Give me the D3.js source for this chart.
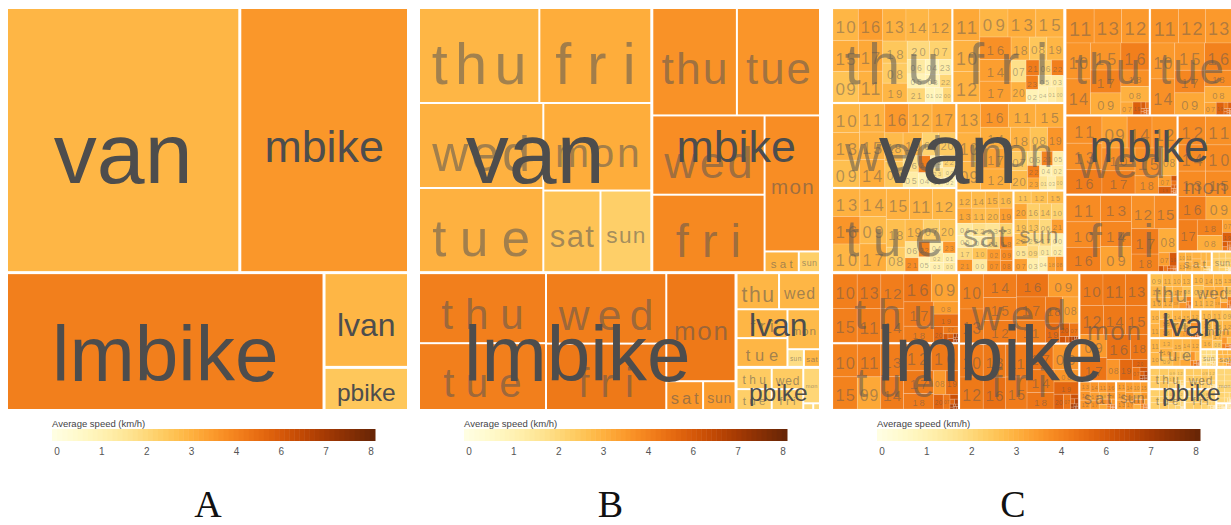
<!DOCTYPE html>
<html><head><meta charset="utf-8">
<script src="https://cdn.jsdelivr.net/npm/d3@7"></script>
<style>
body{margin:0;background:#fff}
svg{display:block}
text{font-family:"Liberation Sans",Arial,Helvetica,sans-serif}
text.letter{font-family:"Liberation Serif","DejaVu Serif",serif}
</style>
</head><body>
<svg id="chart" width="1231" height="525"></svg>
<script>
// ---------------- DATA ----------------
const vehicles = ["van", "mbike", "lmbike", "lvan", "pbike"];
const vehicleSpeed = [2.9, 3.55, 4.1, 2.9, 2.5];
const days = ["mon", "tue", "wed", "thu", "fri", "sat", "sun"];
const hours = ["00","01","02","03","04","05","06","07","08","09","10","11","12","13","14","15","16","17","18","19","20","21","22","23"];
const legendTicks = [0, 1, 2, 3, 4, 6, 7, 8];
const panelLetters = ["A", "B", "C"];

// day-level average speed (mon..sun)
const vanDaySpeed    = [3.1, 3.0, 3.0, 2.9, 3.1, 2.6, 2.3];
const mbikeDaySpeed  = [3.75, 3.6, 3.75, 3.65, 3.85, 2.95, 2.3];
const lmbikeDaySpeed = [4.4, 4.1, 4.15, 4.1, 4.4, 3.6, 3.45];
const lvanDaySpeed   = [2.8, 2.9, 2.9, 2.9, 2.9, 2.9, 1.9];
const pbikeDaySpeed  = [2.1, 2.3, 2.4, 2.4, 2.3, 2.0, 2.0];

// hourly counts, rows mon..sun, columns hour 00..23
const vanCounts = [
 [100,110,120,110,130,150,200,330,420,650,660,640,620,670,630,640,650,630,470,380,320,160,150,140],
 [100,110,130,120,150,160,220,360,450,720,730,700,700,740,730,710,740,720,520,400,350,180,170,140],
 [110,120,110,150,170,230,250,380,470,710,760,710,670,730,690,700,690,670,520,440,380,200,150,140],
 [120,130,125,190,200,255,260,400,490,770,800,750,720,745,730,780,760,755,540,460,410,250,150,195],
 [110,130,150,140,140,150,190,330,400,790,820,830,810,780,680,770,700,650,420,380,300,200,180,170],
 [170,165,150,175,175,185,190,150,130,140,175,215,240,225,235,232,230,185,165,200,210,180,180,178],
 [150,140,130,145,130,160,175,160,115,150,190,210,205,180,192,200,195,152,120,188,200,172,170,155]
];
const vanSpeeds = [
 [2.0,1.6,1.3,1.2,1.1,1.3,1.8,2.4,2.6,2.9,3.0,3.1,3.1,3.1,3.1,3.1,3.6,3.3,3.0,3.6,2.8,4.0,4.2,3.2],
 [1.5,1.2,1.4,1.1,1.2,1.0,1.6,2.3,2.4,2.8,2.9,3.0,2.9,3.0,3.0,3.0,3.6,3.1,2.7,2.8,2.6,3.8,4.0,3.6],
 [1.5,1.2,1.0,1.1,1.0,1.3,1.8,2.2,2.5,2.7,2.9,3.0,3.0,3.0,3.1,3.0,3.5,3.2,2.8,2.9,2.4,4.2,2.2,1.8],
 [2.1,0.9,1.0,1.0,0.9,1.0,1.4,2.2,2.4,2.6,2.9,3.0,3.0,3.0,2.9,3.1,3.4,3.2,2.5,2.9,2.0,2.1,2.1,1.3],
 [1.6,1.3,1.0,1.3,1.0,1.3,2.2,1.8,2.5,2.9,3.0,3.2,3.0,3.1,3.4,3.0,3.7,3.4,3.0,2.9,3.0,4.3,4.1,4.1],
 [1.4,2.0,3.5,2.2,1.2,1.3,1.4,3.7,3.9,3.8,2.6,2.8,2.9,3.2,2.8,2.9,2.8,2.0,3.8,3.4,2.8,3.6,1.8,1.6],
 [1.2,1.4,1.3,1.2,1.1,1.6,2.0,3.4,3.6,2.0,2.2,2.6,2.7,2.5,2.4,2.8,2.3,2.0,3.3,2.6,3.2,3.4,2.7,1.8]
];
const mbikeCounts = [
 [4,3,3,3,3,4,18,120,380,620,700,760,780,690,720,680,650,580,400,90,25,9,7,5],
 [5,4,3,3,3,5,25,140,430,650,860,940,920,910,850,820,750,680,450,95,25,10,8,6],
 [5,4,3,3,3,5,22,140,420,800,760,960,780,950,790,740,860,760,420,90,28,10,8,6],
 [5,4,3,3,3,5,20,150,440,660,870,950,930,940,860,830,760,700,460,100,30,10,8,6],
 [5,4,3,3,3,5,20,140,430,760,880,900,760,800,780,740,820,700,470,95,25,10,8,6],
 [2,2,1,1,1,2,4,10,25,45,75,70,68,72,66,64,60,50,35,15,6,3,2,2],
 [1,1,1,1,1,1,3,6,15,28,45,48,46,44,42,40,36,30,18,8,3,2,1,1]
];
const mbikeSpeeds = [
 [5.3,5.0,5.0,5.0,5.0,5.0,4.5,3.3,3.1,3.2,3.8,3.7,3.8,3.8,3.8,3.8,4.1,4.1,4.0,5.6,5.8,5.5,5.4,5.3],
 [5.4,5.2,5.0,5.0,5.0,5.0,4.4,3.3,3.1,3.2,3.5,3.6,3.6,3.5,3.7,3.6,4.0,3.9,3.8,5.5,5.6,5.4,5.3,5.4],
 [5.5,5.1,5.0,5.0,5.0,5.0,4.6,3.4,3.0,3.3,3.7,3.7,3.6,3.7,3.8,3.7,4.2,4.1,3.7,5.8,6.0,5.6,5.5,5.5],
 [5.5,5.0,5.0,5.0,5.0,5.0,4.5,3.2,3.0,3.1,3.6,3.6,3.5,3.6,3.7,3.6,4.1,4.0,3.7,5.6,5.8,5.5,5.5,5.5],
 [5.4,5.0,5.0,5.0,5.0,5.0,4.5,3.4,3.1,3.3,3.8,3.8,3.7,3.9,3.9,3.8,4.1,4.2,4.0,5.9,6.0,5.7,5.5,5.5],
 [2.4,2.2,2.0,2.0,2.0,2.2,2.4,2.6,2.8,2.9,3.0,3.0,3.0,3.1,3.0,3.0,3.0,2.9,2.8,2.7,2.6,2.5,2.4,2.4],
 [2.0,2.0,1.9,1.9,1.9,2.0,2.1,2.2,2.3,2.3,2.4,2.4,2.3,2.4,2.3,2.3,2.3,2.2,2.2,2.1,2.0,2.0,2.0,2.0]
];
const lmbikeCounts = [
 [5,4,4,4,4,5,18,100,270,620,720,710,680,700,650,640,600,610,430,260,120,30,15,8],
 [6,5,4,4,4,6,22,100,290,760,800,770,740,750,745,790,720,690,470,290,140,38,18,10],
 [6,5,4,4,4,5,22,120,420,690,820,650,740,790,780,770,730,680,450,280,130,35,18,10],
 [6,5,4,4,4,6,25,110,300,745,835,805,795,815,785,825,765,735,480,300,150,40,20,10],
 [6,5,4,4,4,5,20,110,300,640,760,700,750,740,620,690,720,660,450,300,140,35,18,10],
 [3,2,2,2,2,3,8,20,40,60,85,92,95,98,94,96,90,80,60,45,25,10,5,4],
 [3,2,2,2,2,2,6,15,35,55,82,86,85,84,83,82,80,70,50,38,20,8,5,3]
];
const lmbikeSpeeds = [
 [6.7,6.9,7.0,7.0,6.8,6.5,5.6,4.6,3.6,3.5,4.3,4.4,4.4,4.4,4.4,4.3,4.7,4.6,4.5,5.1,5.4,6.1,6.5,6.7],
 [6.8,7.0,7.0,6.9,6.8,6.4,5.4,4.5,3.5,3.2,4.0,4.1,4.2,4.2,4.3,4.0,4.4,4.4,4.3,4.9,5.3,6.2,6.6,6.8],
 [6.9,7.0,7.0,7.0,6.9,6.5,5.5,4.5,3.3,3.4,4.0,4.1,4.3,4.2,4.2,4.1,4.6,4.4,4.4,5.0,5.4,6.1,6.6,6.8],
 [6.8,7.0,7.0,7.0,6.8,6.5,5.5,4.4,3.4,3.3,4.1,4.2,4.2,4.3,4.2,4.1,4.5,4.3,4.2,4.8,5.2,6.0,6.5,6.8],
 [6.8,7.0,7.0,7.0,6.9,6.6,5.6,4.6,3.6,3.6,4.3,4.3,4.4,4.4,4.4,4.3,4.8,4.6,4.5,5.2,5.5,6.2,6.6,6.8],
 [4.5,4.8,5.0,5.0,4.8,4.5,4.0,3.5,3.2,3.2,3.4,3.5,3.6,3.6,3.6,3.6,3.7,3.6,3.6,3.8,4.0,4.3,4.5,4.6],
 [4.3,4.6,4.8,4.8,4.6,4.3,3.8,3.3,3.0,3.0,3.3,3.4,3.4,3.5,3.4,3.4,3.5,3.5,3.5,3.7,3.9,4.2,4.3,4.4]
];
const lvanCounts = [
 [2,1,1,1,1,2,9,36,77,115,120,118,106,113,111,108,111,99,68,38,18,7,3,2],
 [2,1,1,1,1,2,10,41,84,127,133,136,118,131,122,127,129,108,75,43,20,8,5,3],
 [2,1,1,1,1,2,11,43,88,133,136,133,118,124,130,127,124,111,77,43,20,9,5,3],
 [2,1,1,1,1,2,11,45,90,153,127,129,119,127,145,124,142,113,79,45,23,9,5,3],
 [2,1,1,1,1,2,10,41,86,130,133,131,120,127,124,122,127,113,79,45,20,9,5,3],
 [1,1,1,1,1,1,3,7,11,17,24,26,27,26,25,24,23,19,14,10,7,5,2,1],
 [1,1,1,1,1,1,3,7,11,18,25,27,27,26,25,24,23,20,15,10,7,5,2,2]
];
const lvanSpeeds = [
 [5.4,5.5,5.5,5.4,5.3,4.9,3.7,2.7,2.5,2.6,2.8,2.8,2.9,2.8,2.8,2.8,2.9,2.9,3.1,3.5,4.1,4.9,5.3,5.4],
 [5.5,5.6,5.5,5.5,5.4,5.0,3.8,2.8,2.6,2.7,2.9,2.9,3.0,2.9,2.9,2.9,3.0,3.0,3.2,3.6,4.2,5.0,5.4,5.5],
 [5.6,5.6,5.6,5.5,5.4,5.0,3.9,2.8,2.6,2.7,2.9,2.9,2.9,2.9,3.0,2.9,3.0,3.1,3.2,3.7,4.3,5.1,5.4,5.5],
 [5.5,5.6,5.6,5.5,5.4,5.0,3.8,2.8,2.6,2.7,2.9,2.9,3.0,2.9,2.9,2.9,3.0,3.0,3.2,3.6,4.2,5.0,5.4,5.5],
 [5.5,5.6,5.6,5.5,5.4,5.1,3.9,2.9,2.7,2.7,2.9,3.0,2.9,3.0,2.9,2.9,3.1,3.1,3.3,3.7,4.3,5.0,5.4,5.5],
 [4.8,5.0,5.0,4.8,4.6,4.2,3.5,3.0,2.8,2.8,2.9,2.9,2.9,2.9,2.9,2.9,2.9,2.9,3.0,3.2,3.6,4.2,4.6,4.8],
 [2.5,2.6,2.6,2.5,2.4,2.2,1.9,1.8,1.8,1.8,1.9,1.9,1.9,1.9,1.9,1.9,1.9,1.9,2.0,2.1,2.2,2.4,2.5,2.5]
];
const pbikeCounts = [
 [1,1,1,1,1,1,3,16,36,51,53,53,50,52,52,53,51,45,31,18,9,3,2,1],
 [1,1,1,1,1,1,5,20,45,62,66,66,62,64,64,66,63,57,38,23,11,5,2,1],
 [1,1,1,1,1,1,5,18,41,57,59,60,57,58,59,60,58,52,35,20,10,5,2,1],
 [1,1,1,1,1,1,5,20,45,63,66,68,62,64,66,68,64,59,40,23,11,5,2,1],
 [1,1,1,1,1,1,5,17,40,55,58,59,55,57,58,59,57,51,34,20,10,5,2,1],
 [1,0.6,0.6,0.6,0.6,0.6,1,2,3.5,4.5,5.5,5.5,5.5,5.5,5.5,5.5,4.5,4.5,3.5,2,1,1,0.6,0.6],
 [0.6,0.6,0.6,0.6,0.6,0.6,1,1,2.2,3.4,3.4,3.4,3.4,3.4,3.4,3.4,3.4,3.4,2.2,1,1,1,0.6,0.6]
];
const pbikeSpeeds = [
 [1.9,1.9,1.9,1.9,1.9,2.0,2.0,2.1,2.1,2.1,2.1,2.1,2.1,2.1,2.1,2.1,2.2,2.2,2.1,2.1,2.0,2.0,1.9,1.9],
 [2.0,2.0,2.0,2.0,2.0,2.1,2.2,2.2,2.2,2.3,2.3,2.3,2.3,2.3,2.3,2.3,2.4,2.4,2.3,2.2,2.1,2.1,2.0,2.0],
 [2.0,2.0,2.0,2.0,2.0,2.1,2.2,2.3,2.3,2.4,2.4,2.4,2.4,2.4,2.4,2.4,2.5,2.5,2.4,2.3,2.2,2.1,2.0,2.0],
 [2.0,2.0,2.0,2.0,2.0,2.1,2.2,2.3,2.3,2.4,2.4,2.4,2.4,2.4,2.4,2.4,2.5,2.5,2.4,2.3,2.2,2.1,2.0,2.0],
 [2.0,2.0,2.0,2.0,2.0,2.1,2.2,2.2,2.2,2.3,2.3,2.3,2.3,2.3,2.3,2.3,2.4,2.4,2.3,2.2,2.1,2.1,2.0,2.0],
 [1.8,1.8,1.8,1.8,1.8,1.9,1.9,2.0,2.0,2.0,2.0,2.0,2.0,2.0,2.0,2.0,2.1,2.1,2.0,2.0,1.9,1.9,1.8,1.8],
 [1.9,1.9,1.9,1.9,1.9,2.0,2.0,2.0,2.0,2.0,2.0,2.0,2.0,2.0,2.0,2.0,2.1,2.1,2.0,2.0,1.9,1.9,1.9,1.9]
];

// ---------------- BUILD ----------------
const daySpeedBy = {van: vanDaySpeed, mbike: mbikeDaySpeed, lmbike: lmbikeDaySpeed, lvan: lvanDaySpeed, pbike: pbikeDaySpeed};
const countsBy = {van: vanCounts, mbike: mbikeCounts, lmbike: lmbikeCounts, lvan: lvanCounts, pbike: pbikeCounts};
const speedsBy = {van: vanSpeeds, mbike: mbikeSpeeds, lmbike: lmbikeSpeeds, lvan: lvanSpeeds, pbike: pbikeSpeeds};

const rootData = {
  name: "all",
  children: vehicles.map((v, i) => ({
    name: v, speed: vehicleSpeed[i],
    children: days.map((d, j) => ({
      name: d, speed: daySpeedBy[v][j],
      children: hours.map((h, k) => ({name: h, value: countsBy[v][j][k], speed: speedsBy[v][j][k]}))
    }))
  }))
};

const tScale = d3.scaleLinear().domain(legendTicks).range(legendTicks.map((d, i) => i / (legendTicks.length - 1))).clamp(true);
const color = s => d3.interpolateYlOrBr(tScale(s));

const root = d3.hierarchy(rootData).sum(d => d.children ? 0 : d.value).sort((a, b) => b.value - a.value);
d3.treemap()
  .tile(d3.treemapSquarify.ratio(1))
  .size([399, 400])
  .paddingInner(d => d.depth === 0 ? 3 : d.depth === 1 ? 2 : 0)
  (root);

const svg = d3.select("#chart");
svg.append("rect").attr("width", 1231).attr("height", 525).attr("fill", "#fff");

// text measurement
const meas = svg.append("text").attr("font-size", 100).attr("x", -1000).attr("y", -1000);
function emLen(s) { meas.text(s); return meas.node().getComputedTextLength() / 100; }

function addLabel(g, node, opt) {
  const w = node.x1 - node.x0, h = node.y1 - node.y0;
  const txt = node.data.name;
  const em = emLen(txt);
  let fs = Math.min(opt.kw * w / em, opt.kh * h, opt.max);
  if (fs < opt.min) return;
  const t = g.append("text")
    .attr("x", (node.x0 + node.x1) / 2)
    .attr("y", (node.y0 + node.y1) / 2)
    .attr("dy", "0.5em")
    .attr("text-anchor", "middle")
    .attr("font-size", fs.toFixed(2))
    .attr("fill", opt.fill)
    .attr("fill-opacity", opt.op)
    .text(txt);
  if (opt.stretch) {
    const natural = fs * em;
    let target = Math.min(opt.stretch * w, natural + (txt.length - 1) * opt.maxLs * fs);
    if (target > natural) t.attr("textLength", target.toFixed(2)).attr("lengthAdjust", "spacing");
  }
}

const panelX = [8, 420, 833];
const panelY = 9;

panelX.forEach((px, pi) => {
  const level = pi + 1;
  const g = svg.append("g").attr("transform", `translate(${px},${panelY})`);
  const cells = root.descendants().filter(d => d.depth === level);
  g.selectAll("rect.cell").data(cells).join("rect")
    .attr("class", "cell")
    .attr("x", d => d.x0).attr("y", d => d.y0)
    .attr("width", d => Math.max(0, d.x1 - d.x0))
    .attr("height", d => Math.max(0, d.y1 - d.y0))
    .attr("fill", d => color(d.data.speed))
    .attr("stroke", level === 3 ? "rgba(255,255,255,0.2)" : "none")
    .attr("stroke-width", level === 3 ? 0.8 : 0);

  if (level >= 3) {
    root.descendants().filter(d => d.depth === 3).forEach(n =>
      addLabel(g, n, {kw: 0.75, kh: 0.6, max: 20, min: 4, fill: "#555", op: 0.45, stretch: 0.8, maxLs: 0.2}));
  }
  if (level >= 2) {
    root.descendants().filter(d => d.depth === 2).forEach(n =>
      addLabel(g, n, {kw: 0.75, kh: 0.62, max: 80, min: 5, fill: "#555", op: 0.55, stretch: 0.8, maxLs: 0.28}));
  }
  root.descendants().filter(d => d.depth === 1).forEach(n =>
    addLabel(g, n, {kw: 0.72, kh: 0.9, max: 86, min: 5, fill: "#4d4d4d", op: 1, stretch: 0}));

  // legend
  const lx = px + 44, ly = 429, lw = 323, lh = 12;
  const lg = svg.append("g");
  const steps = 64;
  lg.selectAll("rect").data(d3.range(steps)).join("rect")
    .attr("x", i => lx + i * lw / steps).attr("y", ly)
    .attr("width", lw / steps + 0.5).attr("height", lh)
    .attr("fill", i => d3.interpolateYlOrBr((i + 0.5) / steps));
  lg.append("text").attr("x", lx).attr("y", ly - 2).attr("font-size", 9.5).attr("fill", "#444")
    .text("Average speed (km/h)");
  const tickX = d3.scalePoint().domain(legendTicks.map(String)).range([lx + 5, lx + lw - 4]);
  lg.selectAll("text.tick").data(legendTicks).join("text").attr("class", "tick")
    .attr("x", d => tickX(String(d))).attr("y", 455)
    .attr("text-anchor", "middle").attr("font-size", 10).attr("fill", "#555")
    .text(d => d);

  svg.append("text")
    .attr("class", "letter")
    .attr("x", 208 + pi * 402.5).attr("y", 517)
    .attr("text-anchor", "middle")
    .attr("font-size", 38).attr("fill", "#111")
    .text(panelLetters[pi]);
});
meas.remove();
</script>
</body></html>
